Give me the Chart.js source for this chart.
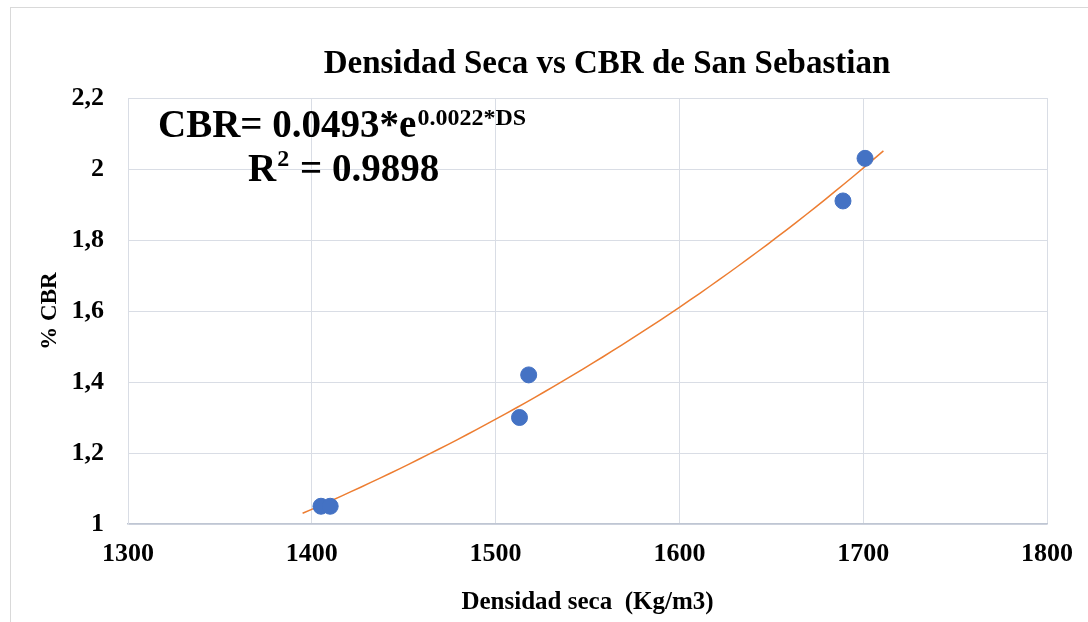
<!DOCTYPE html>
<html>
<head>
<meta charset="utf-8">
<script src="https://cdn.jsdelivr.net/npm/chart.js@4"></script>
<style>
    html, body { margin: 0; padding: 0; background: #fff; }
    #wrap { width: 1088px; height: 622px; }
</style>
</head>
<body>
<div id="wrap"><canvas id="cbrChart" width="1088" height="622"></canvas></div>
<script>
// Data
const densidad = [1405, 1410, 1513, 1518, 1689, 1701];
const cbr = [1.05, 1.05, 1.30, 1.42, 1.91, 2.03];
const xTicks = [1300, 1400, 1500, 1600, 1700, 1800];
const yTicks = [1, 1.2, 1.4, 1.6, 1.8, 2, 2.2];

const serif = "'Liberation Serif', 'DejaVu Serif', serif";

// Exponential trendline (least squares on ln y), like Excel does
function expFit(xs, ys) {
    const n = xs.length;
    const ly = ys.map(v => Math.log(v));
    const mx = xs.reduce((a, b) => a + b, 0) / n;
    const my = ly.reduce((a, b) => a + b, 0) / n;
    let sxy = 0, sxx = 0;
    xs.forEach((x, i) => {
        sxy += (x - mx) * (ly[i] - my);
        sxx += (x - mx) * (x - mx);
    });
    const b = sxy / sxx;
    return { a: Math.exp(my - b * mx), b: b };
}

const fit = expFit(densidad, cbr);
const trendFrom = Math.min(...densidad) - 10;
const trendTo = Math.max(...densidad) + 10;
const trendPoints = [];
for (let i = 0; i <= 60; i++) {
    const x = trendFrom + (trendTo - trendFrom) * i / 60;
    trendPoints.push({ x: x, y: fit.a * Math.exp(fit.b * x) });
}

// Frame, title and equation text
const overlay = {
    id: 'overlay',
    beforeDraw(chart) {
        const ctx = chart.ctx;
        ctx.save();
        ctx.fillStyle = '#fff';
        ctx.fillRect(0, 0, chart.width, chart.height);
        ctx.strokeStyle = '#d9d9d9';
        ctx.lineWidth = 1;
        ctx.strokeRect(10.5, 7.5, 1200, 800);
        ctx.restore();
    },
    afterDraw(chart) {
        const ctx = chart.ctx;
        ctx.save();
        ctx.fillStyle = '#000';
        ctx.textBaseline = 'alphabetic';

        ctx.font = 'bold 33px ' + serif;
        ctx.textAlign = 'center';
        ctx.fillText('Densidad Seca vs CBR de San Sebastian', 607, 73);

        ctx.textAlign = 'left';
        ctx.font = 'bold 39px ' + serif;
        const main = 'CBR= 0.0493*e';
        ctx.fillText(main, 158, 137);
        const w = ctx.measureText(main).width;
        ctx.font = 'bold 24px ' + serif;
        ctx.fillText('0.0022*DS', 158 + w + 1, 125);

        ctx.font = 'bold 39px ' + serif;
        ctx.fillText('R', 248, 181);
        const rw = ctx.measureText('R').width;
        ctx.font = 'bold 24px ' + serif;
        ctx.fillText('2', 248 + rw + 1, 166);
        const sw = ctx.measureText('2').width;
        ctx.font = 'bold 39px ' + serif;
        ctx.fillText(' = 0.9898', 248 + rw + sw + 2, 181);
        ctx.restore();
    }
};

const ctx = document.getElementById('cbrChart').getContext('2d');
const chart = new Chart(ctx, {
    type: 'scatter',
    data: {
        datasets: [{
            label: 'CBR',
            data: densidad.map((d, i) => ({ x: d, y: cbr[i] })),
            backgroundColor: '#4472C4',
            borderColor: '#4472C4',
            pointRadius: 8,
            pointHoverRadius: 8,
            order: 1
        }, {
            label: 'Tendencia',
            data: trendPoints,
            showLine: true,
            borderColor: '#ED7D31',
            borderWidth: 1.5,
            pointRadius: 0,
            tension: 0,
            order: 2
        }]
    },
    options: {
        responsive: false,
        animation: false,
        layout: {
            padding: { top: 98, right: 41, left: 34, bottom: 2 }
        },
        plugins: {
            legend: { display: false },
            tooltip: { enabled: false }
        },
        scales: {
            x: {
                type: 'linear',
                min: 1300,
                max: 1800,
                afterBuildTicks: axis => { axis.ticks = xTicks.map(v => ({ value: v })); },
                afterFit: axis => { axis.height = 96; },
                grid: { color: '#d9dde5', drawTicks: false },
                border: { color: '#bfc6d3', width: 1.5 },
                ticks: {
                    padding: 15,
                    color: '#000',
                    font: { family: serif, size: 26, weight: 'bold' },
                    maxRotation: 0,
                    callback: v => String(v)
                },
                title: {
                    display: true,
                    text: 'Densidad seca  (Kg/m3)',
                    color: '#000',
                    font: { family: serif, size: 25, weight: 'bold' },
                    padding: { top: 0, bottom: 2 }
                }
            },
            y: {
                type: 'linear',
                min: 1,
                max: 2.2,
                afterBuildTicks: axis => { axis.ticks = yTicks.map(v => ({ value: v })); },
                afterFit: axis => { axis.width = 94; },
                grid: { color: '#d9dde5', drawTicks: false },
                border: { color: '#d9dde5' },
                ticks: {
                    padding: 24,
                    color: '#000',
                    font: { family: serif, size: 26, weight: 'bold' },
                    callback: v => String(Math.round(v * 10) / 10).replace('.', ',')
                },
                title: {
                    display: true,
                    text: '% CBR',
                    color: '#000',
                    font: { family: serif, size: 23, weight: 'bold' },
                    padding: { top: 2, bottom: 0 }
                }
            }
        }
    },
    plugins: [overlay]
});
</script>
</body>
</html>
